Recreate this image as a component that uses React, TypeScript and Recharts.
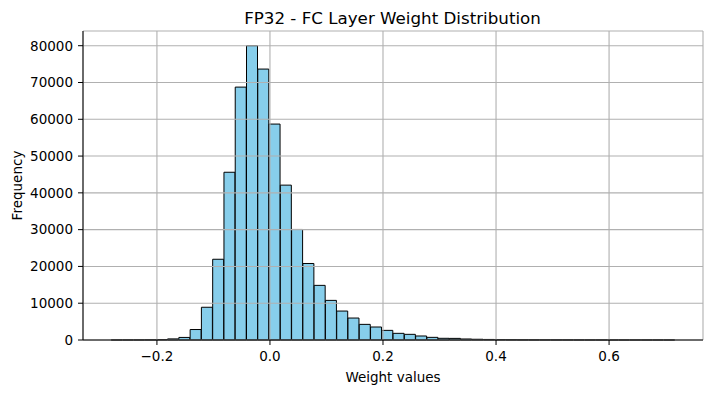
import { ComposedChart, Bar, XAxis, YAxis, CartesianGrid, Label } from 'recharts'

// histogram bins (50 bins)
const BIN_START = -0.2809
const BIN_WIDTH = 0.01995
const counts = [
  5, 10, 20, 40, 120, 300, 700, 2850, 8900, 21950,
  45600, 68750, 80000, 73650, 58700, 42100, 30050, 20800, 14850, 10770,
  7870, 5970, 4250, 3530, 2620, 1810, 1540, 1090, 720, 460,
  440, 280, 200, 150, 110, 80, 50, 40, 30, 25,
  20, 15, 12, 10, 8, 6, 5, 4, 3, 2,
]

const xTicks = [-0.2, 0, 0.2, 0.4, 0.6]
const yTicks = [0, 10000, 20000, 30000, 40000, 50000, 60000, 70000, 80000]
const xDomain: [number, number] = [-0.3308, 0.7662]
const yDomain: [number, number] = [0, 84000]

const data = counts.map((count, i) => ({ x: BIN_START + (i + 0.5) * BIN_WIDTH, count }))

const FONT = '"DejaVu Sans", sans-serif'
const tickStyle = { fontSize: 13.5, fill: '#000', fontFamily: FONT }

const fmtX = (v: number) => v.toFixed(1).replace('-', '\u2212')

export default function App() {
  return (
    <div style={{ position: 'absolute', left: 0, top: 0, width: 713, height: 393, background: '#fff', fontFamily: FONT }}>
      <div
        style={{
          position: 'absolute', left: 82, top: 8, width: 621, textAlign: 'center',
          fontSize: 16.7, lineHeight: '20px', color: '#000',
        }}
      >
        FP32 - FC Layer Weight Distribution
      </div>
      <ComposedChart
        width={713}
        height={393}
        data={data}
        margin={{ top: 31, right: 10, bottom: 0, left: 0 }}
        barCategoryGap={0}
        barGap={0}
      >
        <XAxis
          type="number"
          dataKey="x"
          domain={xDomain}
          allowDataOverflow
          ticks={xTicks}
          tickFormatter={fmtX}
          height={53}
          tick={tickStyle}
          tickSize={5}
          tickMargin={6}
          axisLine={{ stroke: '#000' }}
          tickLine={{ stroke: '#000' }}
        >
          <Label value="Weight values" position="insideBottom" offset={11} style={{ fontSize: 13.5, fill: '#000', fontFamily: FONT }} />
        </XAxis>
        <XAxis
          xAxisId="top"
          orientation="top"
          type="number"
          dataKey="x"
          domain={xDomain}
          allowDataOverflow
          height={0}
          tick={false}
          tickLine={false}
          axisLine={{ stroke: '#000' }}
        />
        <YAxis
          type="number"
          domain={yDomain}
          ticks={yTicks}
          width={83}
          tick={tickStyle}
          tickSize={5}
          tickMargin={5}
          axisLine={{ stroke: '#000' }}
          tickLine={{ stroke: '#000' }}
        >
          <Label value="Frequency" angle={-90} position="insideLeft" offset={17} style={{ fontSize: 13.5, fill: '#000', fontFamily: FONT, textAnchor: 'middle' }} />
        </YAxis>
        <YAxis
          yAxisId="right"
          orientation="right"
          type="number"
          domain={yDomain}
          width={0}
          tick={false}
          tickLine={false}
          axisLine={{ stroke: '#000' }}
        />
        <Bar dataKey="count" fill="#87ceeb" stroke="#000" strokeWidth={1} isAnimationActive={false} />
        <CartesianGrid stroke="#b0b0b0" strokeWidth={1.1} zIndex={350} />
      </ComposedChart>
    </div>
  )
}
